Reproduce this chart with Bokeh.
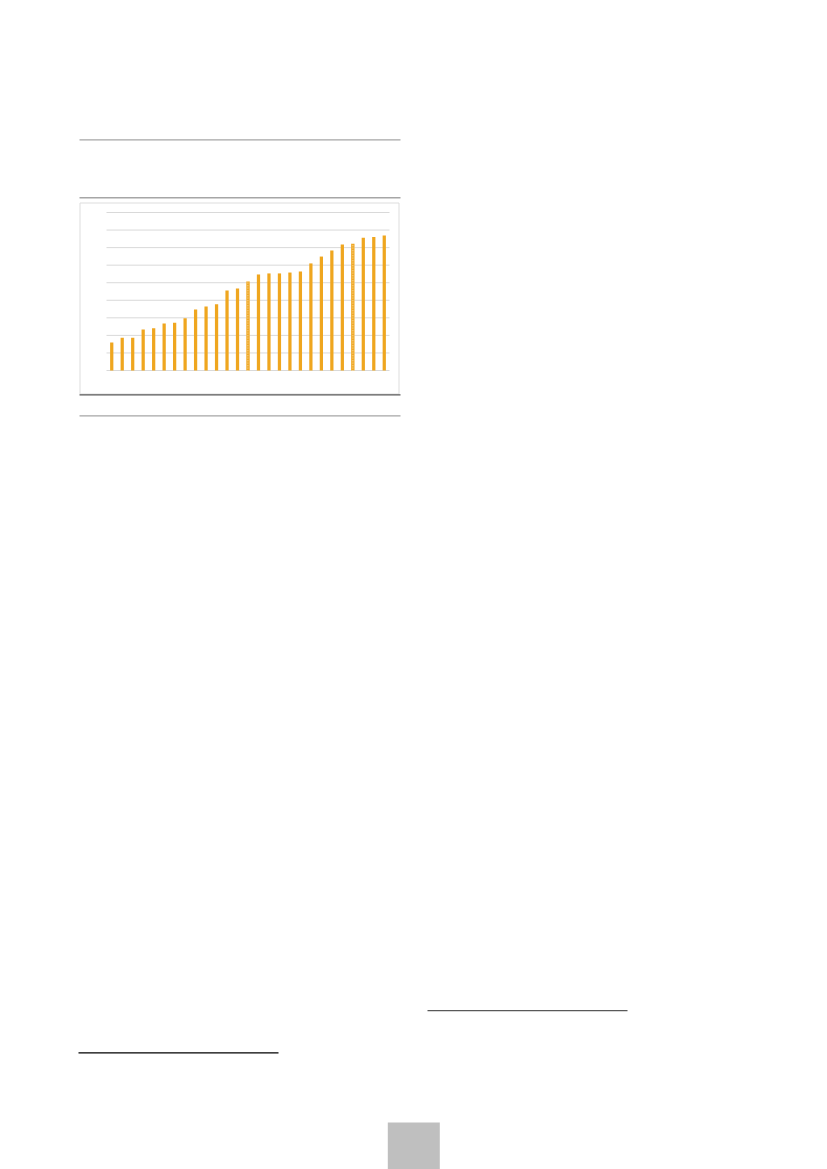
from bokeh.plotting import figure
from bokeh.models import Range1d
from bokeh.embed import file_html
from bokeh.resources import INLINE

# ---- data (grid step = 10) ----
categories = list(range(27))
values = [16.0, 18.6, 18.6, 23.4, 24.1, 26.8, 27.2, 29.8, 34.7, 36.5, 37.8,
          45.6, 46.7, 50.7, 54.7, 55.3, 55.3, 55.8, 56.4, 61.0, 64.9, 68.4,
          71.8, 72.2, 75.6, 76.1, 76.9]
hatched = [13, 23]
grid_ticks = [0, 10, 20, 30, 40, 50, 60, 70, 80, 90]
y_max = 90

ORANGE = "#EFA61F"
GRID = "#D9D9D9"

# ---- page layout (canvas pixels) ----
W, H = 827, 1169
PL, PR, PT, PB = 106, 389, 212, 370   # plot area of the chart inside the page

# chart ranges stretched so that the plot area lands at PL..PR / PT..PB
n = len(categories)
ux = n / (PR - PL)
uy = y_max / (PB - PT)
x_range = Range1d(-0.5 - PL * ux, n - 0.5 + (W - PR) * ux)
y_range = Range1d(-(H - PB) * uy, y_max + PT * uy)

p = figure(output_backend="svg", toolbar_location=None, width=W, height=H,
           x_range=x_range, y_range=y_range,
           x_axis_location=None, y_axis_location=None, min_border=0)
p.outline_line_color = None
p.background_fill_color = "white"
p.border_fill_color = "white"
p.xgrid.visible = False
p.ygrid.visible = False
p.extra_x_ranges = {"page": Range1d(0, W)}
p.extra_y_ranges = {"page": Range1d(H, 0)}


def rule(left, right, top, bottom, color, outline=False):
    if outline:
        p.quad(left=left, right=right, top=top, bottom=bottom,
               fill_color=None, line_color=color, line_width=1,
               x_range_name="page", y_range_name="page")
    else:
        p.quad(left=left, right=right, top=top, bottom=bottom,
               fill_color=color, line_color=None,
               x_range_name="page", y_range_name="page")


# page decorations
rule(79, 400, 138.7, 139.9, "#A6A6A6")
rule(79, 400, 196.6, 198.0, "#A6A6A6")
rule(79.5, 398.5, 202.5, 393.5, "#DDDDDD", outline=True)
rule(79, 400, 393.8, 395.0, "#595959")
rule(79, 400, 414.8, 416.0, "#A6A6A6")
rule(427, 627, 1009.4, 1010.8, "#595959")
rule(78, 278, 1051.7, 1053.0, "#000000")
rule(387.3, 439.3, 1122, H, "#BFBFBF")

# chart gridlines
p.segment(x0=-0.5, x1=n - 0.5, y0=grid_ticks, y1=grid_ticks,
          line_color=GRID, line_width=1)

solid_x = [c for c in categories if c not in hatched]
solid_v = [values[c] for c in solid_x]
hatch_x = [c for c in categories if c in hatched]
hatch_v = [values[c] for c in hatch_x]

p.vbar(x=solid_x, top=solid_v, bottom=0, width=0.31,
       fill_color=ORANGE, line_color=None)
p.vbar(x=hatch_x, top=hatch_v, bottom=0, width=0.31,
       fill_color="#FBE3B8", line_color=None,
       hatch_pattern="right_diagonal_line", hatch_color=ORANGE,
       hatch_scale=2.5, hatch_weight=1.5)

open("out.html", "w").write(file_html(p, INLINE))
